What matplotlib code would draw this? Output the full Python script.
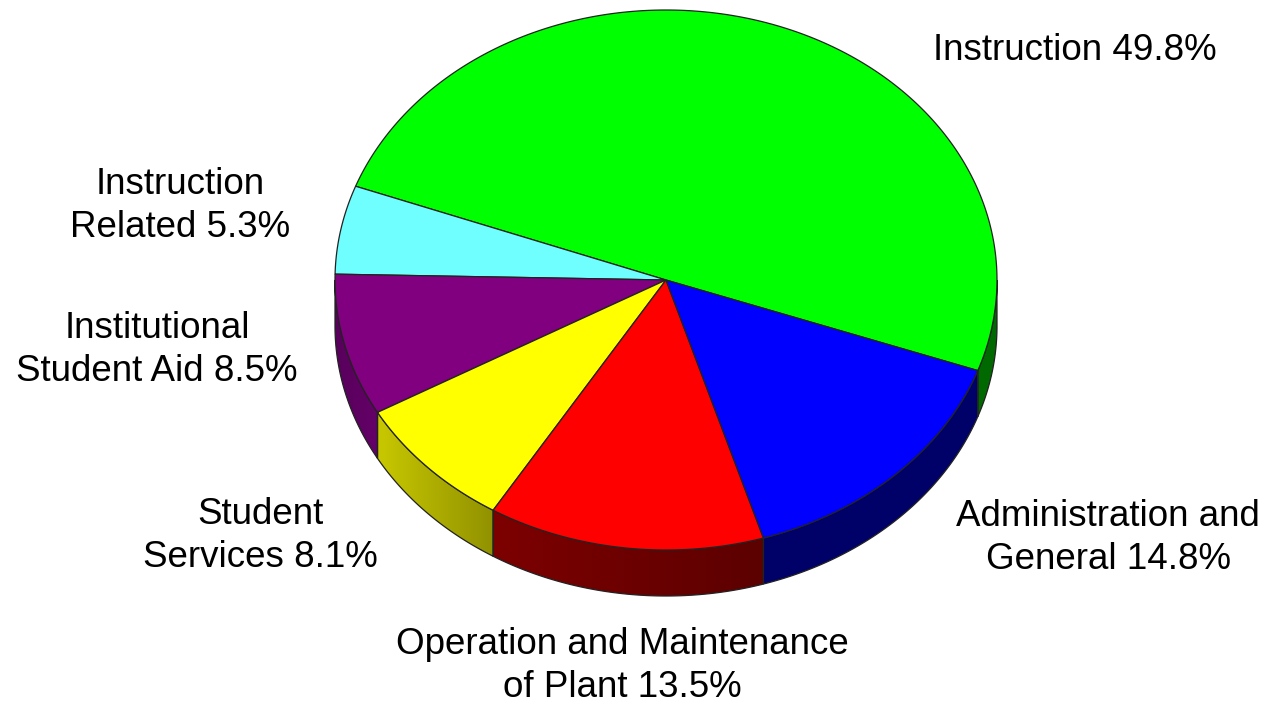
import numpy as np
import matplotlib
matplotlib.use("Agg")
import matplotlib.pyplot as plt
from matplotlib.patches import Polygon

plt.rcParams['font.family'] = ['Liberation Sans', 'DejaVu Sans']

# Expense categories and their shares (%)
categories = ["Instruction", "Instruction\nRelated", "Institutional\nStudent Aid",
              "Student\nServices", "Operation and Maintenance\nof Plant",
              "Administration and\nGeneral"]
shares = [49.8, 5.3, 8.5, 8.1, 13.5, 14.8]

# Styling
top_colors = ["#00ff00", "#6fffff", "#800080", "#ffff00", "#ff0000", "#0000ff"]
side_colors = [((0, 105, 0), (0, 105, 0)),
               ((60, 150, 150), (60, 150, 150)),
               ((88, 0, 92), (100, 0, 104)),
               ((200, 200, 0), (145, 145, 0)),
               ((125, 0, 0), (92, 0, 0)),
               ((0, 0, 105), (0, 0, 105))]
label_pos = [(1075, 50), (180, 206), (157, 350), (260, 536), (622, 666), (1108, 538)]

W, H = 1272, 704
cx, cy, rx, ry, depth = 666, 280, 331, 270, 46
start_angle = -19.6

fig = plt.figure(figsize=(W / 100, H / 100), dpi=100)
ax = fig.add_axes([0, 0, 1, 1])
ax.set_xlim(0, W)
ax.set_ylim(H, 0)
ax.axis("off")


def rim(t_deg, dy=0.0):
    t = np.radians(t_deg)
    return cx + rx * np.cos(t), cy - ry * np.sin(t) + dy


edge = dict(edgecolor="#222222", linewidth=0.9)

total = sum(shares)
bounds = []
a = start_angle
for s in shares:
    span = 360.0 * s / total
    bounds.append((a, a + span))
    a += span

# Front walls (only the lower half of the rim faces the viewer)
for (a0, a1), (c0, c1) in zip(bounds, side_colors):
    for shift in (0, 360, -360):
        lo = max(a0 + shift, 180)
        hi = min(a1 + shift, 360)
        if hi <= lo:
            continue
        ts = np.linspace(lo, hi, 200)
        xs, ys = rim(ts)
        xb, yb = rim(ts[::-1], depth)
        poly = np.column_stack([np.r_[xs, xb], np.r_[ys, yb]])
        x_left, x_right = xs.min(), xs.max()
        y_top, y_bot = ys.min(), yb.max()
        # horizontal shading gradient, lower angle sits on the left
        g = np.linspace(0, 1, 256)[None, :, None]
        cl = np.array(c0)[None, None, :] / 255
        cr = np.array(c1)[None, None, :] / 255
        grad = cl * (1 - g) + cr * g
        grad = np.repeat(grad, 2, axis=0)
        im = ax.imshow(grad, extent=(x_left, x_right, y_bot, y_top),
                       aspect="auto", interpolation="bilinear", zorder=1)
        clip = Polygon(poly, closed=True, facecolor="none", edgecolor="none",
                       transform=ax.transData)
        ax.add_patch(clip)
        im.set_clip_path(clip)
        ax.add_patch(Polygon(poly, closed=True, facecolor="none", zorder=2, **edge))

ax.set_xlim(0, W)
ax.set_ylim(H, 0)

# Top faces
for (a0, a1), col in zip(bounds, top_colors):
    ts = np.linspace(a0, a1, 200)
    xs, ys = rim(ts)
    poly = np.column_stack([np.r_[cx, xs], np.r_[cy, ys]])
    ax.add_patch(Polygon(poly, closed=True, facecolor=col, zorder=3, **edge))

# Labels
for name, val, (x, y) in zip(categories, shares, label_pos):
    ax.text(x, y, f"{name} {val:.1f}%", ha="center", va="center",
            fontsize=26.5, color="black", linespacing=1.3, zorder=4)

fig.savefig("out.png", dpi=100)
